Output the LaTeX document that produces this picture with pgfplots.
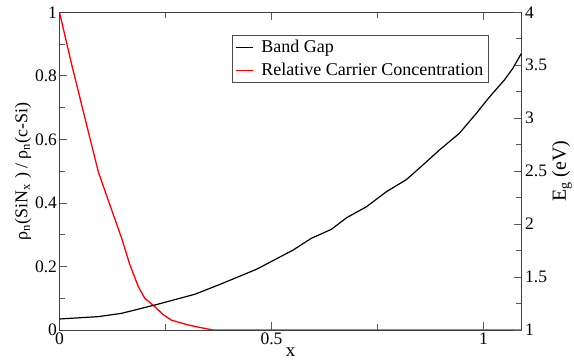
\documentclass[border=0pt]{standalone}
\usepackage{pgfplots}
\pgfplotsset{compat=1.18}
\usepackage{fontspec}
\setmainfont{Liberation Serif}
\begin{document}
\begin{tikzpicture}
\pgfplotsset{
  every axis/.append style={
    scale only axis, width=462.2pt, height=317.7pt,
    xmin=0, xmax=1.09,
    axis line style={black!75, line width=0.8pt},
    every tick/.style={black!65, line width=0.8pt},
    major tick length=8pt, minor tick length=6pt,
    tick label style={font=\fontsize{17.5}{20}\selectfont},
    label style={font=\fontsize{19}{22}\selectfont},
    /pgf/number format/assume math mode=true,
  }
}
\begin{axis}[
  ymin=0, ymax=1,
  xtick={0,0.5,1}, minor x tick num=1,
  ytick={0,0.2,0.4,0.6,0.8,1}, minor y tick num=1,
  xtick pos=both, xticklabel pos=bottom,
  ytick pos=left,
  xlabel={x},
  ylabel={ρ\textsubscript{n}(SiN\textsubscript{x} ) / ρ\textsubscript{n}(c-Si)},
  xlabel style={yshift=3pt},
  ylabel style={font=\fontsize{18}{21}\selectfont, yshift=-3pt},
  yticklabel style={xshift=1pt},
  xticklabel style={yshift=1pt},
]
\addplot[red, line width=1.3pt] coordinates {
(0,1.0) (0.029,0.834) (0.068,0.624) (0.0915,0.498) (0.119,0.393)
(0.1465,0.289) (0.166,0.205) (0.186,0.136) (0.201,0.100) (0.225,0.073)
(0.245,0.048) (0.264,0.031) (0.303,0.016) (0.335,0.007) (0.362,0.0)
(0.40,0.0) (1.09,0.0)
};
\coordinate (bl) at (rel axis cs:0,0);
\coordinate (tr) at (rel axis cs:1,1);
\end{axis}
\begin{axis}[
  ymin=1, ymax=4,
  axis x line=none,
  axis y line*=right,
  ytick={1,1.5,2,2.5,3,3.5,4}, minor y tick num=1,
  ytick pos=right,
  ylabel={E\textsubscript{g} (eV)},
  ylabel style={font=\fontsize{20}{23}\selectfont, yshift=2pt},
  legend style={at={(0.373,0.9285)}, anchor=north west,
    font=\fontsize{18}{21}\selectfont, draw=black!70, line width=0.6pt,
    inner sep=3pt, row sep=5pt, cells={anchor=west},
    /tikz/every odd column/.append style={column sep=6pt}},
  legend cell align=left,
]
\addplot[black, line width=1.2pt] coordinates {
(0,1.104) (0.091,1.126) (0.146,1.157) (0.225,1.236) (0.319,1.337)
(0.378,1.43) (0.4645,1.573) (0.551,1.755) (0.594,1.866) (0.641,1.95)
(0.677,2.06) (0.724,2.164) (0.771,2.306) (0.818,2.42) (0.857,2.558)
(0.896,2.70) (0.943,2.857) (0.983,3.046) (1.014,3.20) (1.049,3.36)
(1.069,3.47) (1.089,3.61)
};
\addlegendentry{Band Gap}
\addlegendimage{red, line width=1.2pt}
\addlegendentry{Relative Carrier Concentration}
\end{axis}
\pgfresetboundingbox
\path[use as bounding box] ([shift={(-59.5pt,-30pt)}]bl) rectangle ([shift={(52.3pt,12.3pt)}]tr);
\end{tikzpicture}
\end{document}
